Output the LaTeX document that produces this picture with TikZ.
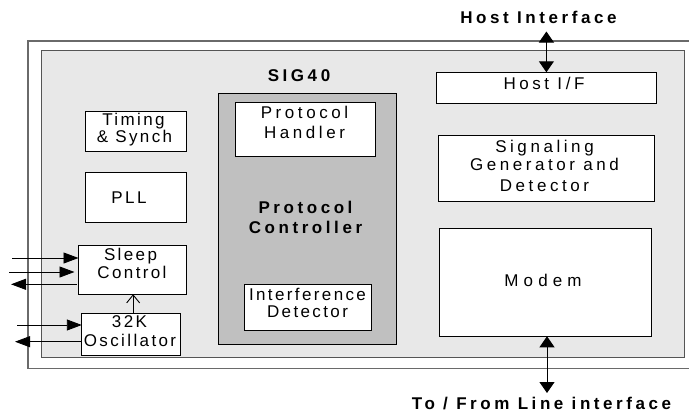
\documentclass[tikz,border=0pt]{standalone}
\usepackage{fontspec}
\setmainfont{Liberation Sans}[LetterSpace=21]
\newfontfamily\lsnarrow{Liberation Sans}[LetterSpace=14]
\newfontfamily\lswide{Liberation Sans}[LetterSpace=30]
\usetikzlibrary{arrows.meta}
\definecolor{chipfill}{HTML}{E8E8E8}
\definecolor{pcfill}{HTML}{C0C0C0}
\definecolor{framegray}{HTML}{6A6A6A}
\definecolor{chipedge}{HTML}{555555}
\begin{document}
\begin{tikzpicture}[x=1pt,y=-1pt,
  blk/.style={draw=black, line width=0.9pt, fill=white, inner sep=0pt, outer sep=0pt},
  txt/.style={font=\fontsize{17}{19}\selectfont, inner sep=0pt, anchor=base},
  ntxt/.style={font=\fontsize{17}{19}\selectfont\lsnarrow, inner sep=0pt, anchor=base},
  wtxt/.style={font=\fontsize{17}{19}\selectfont\lswide, inner sep=0pt, anchor=base},
  btxt/.style={font=\fontsize{17}{19}\selectfont\bfseries, inner sep=0pt, anchor=base},
  sig/.style={line width=0.9pt, -{Triangle[length=15pt,width=11pt]}},
  bus/.style={line width=1pt, {Triangle[length=11pt,width=15pt]}-{Triangle[length=11pt,width=15pt]}},
  ]
\useasboundingbox (0,0) rectangle (689,413);
\fill[white] (0,0) rectangle (689,413);
\clip (0,0) rectangle (689,413);

% frames
\node[draw=framegray, line width=1.8pt, inner sep=0pt, minimum width=692.3pt, minimum height=327.8pt] (outer) at (373.85,204.6) {};
\node[draw=chipedge, fill=chipfill, line width=0.9pt, inner sep=0pt, minimum width=642.8pt, minimum height=306.6pt] (chip) at (363.1,204) {};

% blocks
\node[blk, fill=pcfill, minimum width=178.3pt, minimum height=251pt] (pc) at (307.55,218.8) {};
\node[blk, minimum width=140.2pt, minimum height=54pt] (handler) at (305.6,129.7) {};
\node[blk, minimum width=127pt, minimum height=45.6pt] (interf) at (308.2,307.5) {};
\node[blk, minimum width=101.5pt, minimum height=40pt] (timing) at (135.95,131.3) {};
\node[blk, minimum width=101.5pt, minimum height=50pt] (pll) at (135.95,197) {};
\node[blk, minimum width=107.8pt, minimum height=48.9pt] (sleep) at (132.4,269.75) {};
\node[blk, minimum width=98.7pt, minimum height=42.2pt] (osc) at (131.15,334.4) {};
\node[blk, minimum width=220.2pt, minimum height=31.4pt] (hostif) at (546.4,88) {};
\node[blk, minimum width=216.2pt, minimum height=66pt] (signal) at (546.1,168.3) {};
\node[blk, minimum width=211.7pt, minimum height=107.6pt] (modem) at (545.25,282.5) {};

% texts
\node[btxt] (tsig) at (299,81.7) {SIG40};
\node[btxt] (thost) at (538.5,23.3) {Host Interface};
\node[btxt] (tline) at (541.5,409) {To / From Line interface};
\node[txt] (thif) at (544,89.3) {Host I/F};
\node[ntxt] (ttim1) at (133.5,125) {Timing};
\node[ntxt] (ttim2) at (134.5,142.7) {\& Synch};
\node[ntxt] (tpll) at (129,203.3) {PLL};
\node[ntxt] (tsl1) at (130.5,260.7) {Sleep};
\node[ntxt] (tsl2) at (132,278.3) {Control};
\node[ntxt] (tos1) at (129.5,327.7) {32K};
\node[ntxt] (tos2) at (130,346.7) {Oscillator};
\node[txt] (tph1) at (304.5,118.3) {Protocol};
\node[txt] (tph2) at (304.5,138.3) {Handler};
\node[btxt] (tpc1) at (305.5,213.3) {Protocol};
\node[btxt] (tpc2) at (305.5,233.3) {Controller};
\node[ntxt] (tid1) at (307.5,300.7) {Interference};
\node[ntxt] (tid2) at (307.5,317.3) {Detector};
\node[txt] (tsg1) at (544.5,152.7) {Signaling};
\node[txt] (tsg2) at (544.5,170.7) {Generator and};
\node[txt] (tsg3) at (544.5,191) {Detector};
\node[wtxt] (tmod) at (543,286) {Modem};

% connectors
\coordinate (hostend) at (546.4,31.5);
\draw[bus] (hostend) -- (hostif.north);
\coordinate (lineend) at (547,393);
\draw[bus] (modem.south -| lineend) -- (lineend);

\coordinate (in1) at (12,258);
\draw[sig] (in1) -- (in1 -| sleep.west);
\coordinate (in2) at (9,272);
\draw[sig, shorten >=4pt] (in2) -- (in2 -| sleep.west);
\coordinate (out1) at (11,284.3);
\draw[sig] ([xshift=-2pt]out1 -| sleep.west) -- (out1);
\coordinate (in3) at (17,325);
\draw[sig] (in3) -- (in3 -| osc.west);
\coordinate (out2) at (15,341.7);
\draw[sig] (out2 -| osc.west) -- (out2);
\draw[line width=0.9pt, -{Straight Barb[length=8pt,width=13pt]}] ([xshift=2pt]osc.north) -- ([xshift=2pt]osc.north |- sleep.south);
\end{tikzpicture}
\end{document}
